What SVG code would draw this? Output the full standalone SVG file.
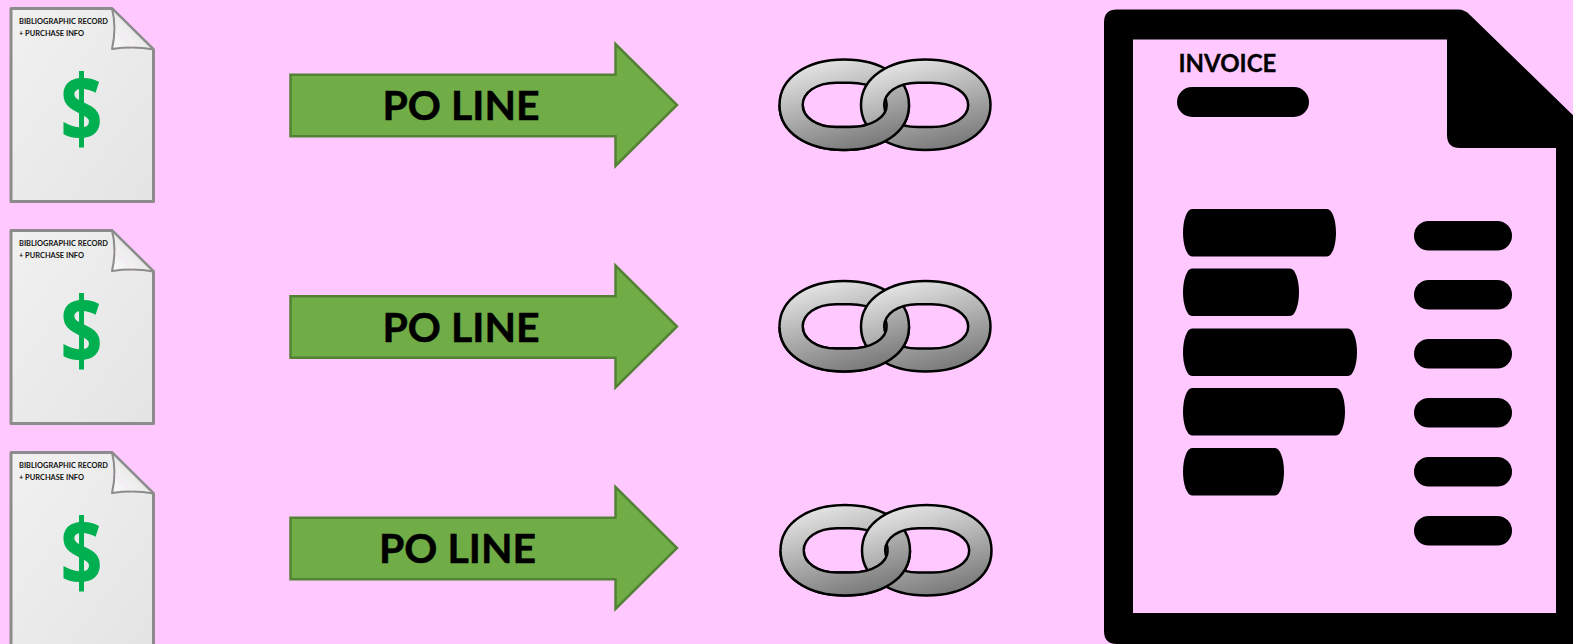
<svg xmlns="http://www.w3.org/2000/svg" xmlns:xlink="http://www.w3.org/1999/xlink" width="1573" height="644" viewBox="0 0 1573 644">
<style>
.doc{fill:url(#docFill);stroke:#8c8c8c;stroke-width:3;stroke-linejoin:round}
.fold{fill:url(#foldFill);stroke:#8c8c8c;stroke-width:2;stroke-linejoin:round}
.sheen{fill:none;stroke:#fbdcfb;stroke-width:1}
.small{font:700 7.45px "Lato","Liberation Sans",sans-serif;fill:#111}
.dollar{font:700 94px "Open Sans","Liberation Sans",sans-serif;fill:#00b050;text-anchor:middle}
.arrow{fill:#70ad47;stroke:#548235;stroke-width:2.5}
.po{font:700 41px "Lato","Liberation Sans",sans-serif;fill:#000;stroke:#000;stroke-width:.5;text-anchor:middle}
.ring{fill:url(#ringFill);fill-rule:evenodd;stroke:#000;stroke-width:2.5}
.inv{font:700 24px "Lato","Liberation Sans",sans-serif;fill:#000;stroke:#000;stroke-width:.3}
</style>
<defs>
<linearGradient id="docFill" x1="0" y1="0" x2="1" y2="1"><stop offset="0" stop-color="#f1f1f1"/><stop offset="1" stop-color="#e4e4e4"/></linearGradient>
<linearGradient id="foldFill" x1="0" y1="1" x2="1" y2="0"><stop offset="0" stop-color="#fafafa"/><stop offset="0.45" stop-color="#ececec"/><stop offset="0.8" stop-color="#a6a6a6"/></linearGradient>
<linearGradient id="ringFill" x1="0.3" y1="0" x2="0.7" y2="1"><stop offset="0" stop-color="#e6e6e6"/><stop offset="1" stop-color="#767676"/></linearGradient>
<clipPath id="lowerHalf"><rect x="770" y="105" width="150" height="55"/></clipPath>
<path id="ringL" class="ring" d="M779.500 105C779.500 77 808 59.500 844 59.500C881 59.500 909 77 909 105C909 133 881 150 844 150C808 150 779.500 133 779.500 105ZM802.700 105C802.700 117 816 127 836 127L850 127C872 127 886.700 117 886.700 105C886.700 93 872 82.700 850 82.700L836 82.700C816 82.700 802.700 93 802.700 105Z"/>
<use id="ringR" xlink:href="#ringL" href="#ringL" transform="translate(81.500 0)"/>
<g id="chain">
<use xlink:href="#ringL" href="#ringL"/>
<use xlink:href="#ringR" href="#ringR"/>
<use xlink:href="#ringL" href="#ringL" clip-path="url(#lowerHalf)"/>
</g>
<g id="docShape">
<path class="doc" d="M11 8.500H112L153.500 49.500V201.500H11Z"/>
<path class="fold" d="M112 8.500C116 24 115 36 112 49C126 47 140 47 153.500 49.500Z"/>
<path class="sheen" d="M115 30L132 47"/>
<text class="small" x="19" y="24">BIBLIOGRAPHIC RECORD</text>
<text class="small" x="19" y="35.500">+ PURCHASE INFO</text>
<text class="dollar" transform="translate(81.500 142) scale(.79 1)">$</text>
</g>
<path id="arrowShape" class="arrow" d="M290.500 74.800H615.500V44L677 105L615.500 166V136.200H290.500Z"/>
</defs>
<rect width="1573" height="644" fill="#ffc9ff"/>
<g id="doc-1"><use xlink:href="#docShape" href="#docShape"/></g>
<g id="doc-2"><use xlink:href="#docShape" href="#docShape" y="222"/></g>
<g id="doc-3"><use xlink:href="#docShape" href="#docShape" y="444"/></g>
<g id="connectors">
<g id="arrow-1"><use xlink:href="#arrowShape" href="#arrowShape"/><text class="po" x="461" y="119.500">PO LINE</text></g>
<g id="arrow-2"><use xlink:href="#arrowShape" href="#arrowShape" y="221.500"/><text class="po" x="461" y="341.500">PO LINE</text></g>
<g id="arrow-3"><use xlink:href="#arrowShape" href="#arrowShape" y="443"/><text class="po" x="457.500" y="563">PO LINE</text></g>
</g>
<g id="chain-1"><use xlink:href="#chain" href="#chain"/></g>
<g id="chain-2"><use xlink:href="#chain" href="#chain" y="221.500"/></g>
<g id="chain-3"><use xlink:href="#chain" href="#chain" x="1" y="445.500"/></g>
<g id="invoice">
<path fill="#000" fill-rule="evenodd" d="M1117 9.500H1458Q1465 9.500 1470 15L1580 122V644H1117Q1104 644 1104 631V22.500Q1104 9.500 1117 9.500ZM1133 39.500V613H1556V148H1460Q1447 148 1447 135V39.500Z"/>
<text class="inv" x="1178.500" y="72">INVOICE</text>
<rect x="1177" y="87" width="132" height="30" rx="15"/>
<rect x="1183" y="209" width="153" height="47.500" rx="9" ry="23.750"/>
<rect x="1183" y="268.500" width="116" height="47.500" rx="9" ry="23.750"/>
<rect x="1183" y="328.500" width="174" height="47.500" rx="9" ry="23.750"/>
<rect x="1183" y="388" width="162" height="47.500" rx="9" ry="23.750"/>
<rect x="1183" y="448" width="101" height="47.500" rx="9" ry="23.750"/>
<rect x="1414" y="221" width="98" height="29.500" rx="14.750"/>
<rect x="1414" y="280" width="98" height="29.500" rx="14.750"/>
<rect x="1414" y="339" width="98" height="29.500" rx="14.750"/>
<rect x="1414" y="398" width="98" height="29.500" rx="14.750"/>
<rect x="1414" y="457" width="98" height="29.500" rx="14.750"/>
<rect x="1414" y="516" width="98" height="29.500" rx="14.750"/>
</g>
</svg>
